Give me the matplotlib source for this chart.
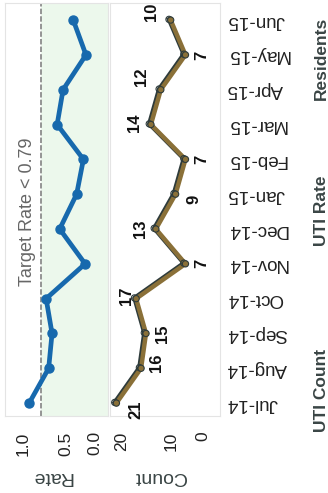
import matplotlib.pyplot as plt
import matplotlib.patheffects as pe
from matplotlib.transforms import ScaledTranslation

plt.rcParams['font.family'] = ['Liberation Sans', 'DejaVu Sans']

# data, Jul-14 .. Jun-15
months = ['Jul-14', 'Aug-14', 'Sep-14', 'Oct-14', 'Nov-14', 'Dec-14',
          'Jan-15', 'Feb-15', 'Mar-15', 'Apr-15', 'May-15', 'Jun-15']
uti_count = [21, 16, 15, 17, 7, 13, 9, 7, 14, 12, 7, 10]
uti_rate = [0.93, 0.70, 0.66, 0.73, 0.27, 0.57, 0.37, 0.29, 0.60, 0.53, 0.26, 0.41]
target = 0.79
rate_ticks = [1.0, 0.5, 0.0]
count_ticks = [20, 10, 0]

# where the count labels sit relative to their point (points)
label_off = [(14, -5), (11, 4), (12, 0), (-7, 2), (12, 0), (-11, 0),
             (13, -4), (12, 0), (-12, 1), (-14, 9), (12, 0), (-14, 6)]

blue = '#1769ad'
brown = '#8a7038'
dark = '#2e3b3b'
txt = '#3a4545'

idx = list(range(len(months)))

fig = plt.figure(figsize=(3.28, 4.93), dpi=100)
ax_r = fig.add_axes([5/328, 77/493, 103/328, 413/493])
ax_c = fig.add_axes([110/328, 77/493, 110/328, 413/493])

# rate panel
ax_r.axvspan(0, target, color='#ecf8ec', zorder=0, lw=0)
ax_r.axvline(target, color='#8c8c8c', ls=(0, (3, 1.2)), lw=1.3, zorder=1)
ax_r.plot(uti_rate, idx, color=blue, lw=3.4, marker='o', ms=6.5, zorder=3)
ax_r.annotate('Target Rate < %.2f' % target, (target, 5.5), xytext=(-10, 0),
              textcoords='offset points', rotation=90, ha='center', va='center',
              fontsize=13, color='#666666')
ax_r.set_xlim(1.215, 0)
ax_r.set_xticks(rate_ticks, ['%.1f' % t for t in rate_ticks])

# count panel
ax_c.plot(uti_count, idx, color=brown, lw=3.2, marker='o', ms=4.5,
          mfc=brown, mec=dark, mew=0.8, zorder=3,
          path_effects=[pe.SimpleLineShadow(offset=(-1.2, 0.5), shadow_color=dark, alpha=1),
                        pe.Normal()])
for i, v in enumerate(uti_count):
    ax_c.annotate(str(v), (v, i), xytext=label_off[i], textcoords='offset points',
                  rotation=90, ha='center', va='center', fontsize=12,
                  fontweight='bold', color='#111111')
ax_c.set_xlim(22.3, 0)
ax_c.set_xticks(count_ticks, [str(t) for t in count_ticks])
ax_c.set_yticks(idx, months)
ax_c.yaxis.tick_right()
ax_c.tick_params(axis='y', length=0, pad=5, labelsize=13.5, labelrotation=180,
                 labelcolor='#222222')
for lbl in ax_c.get_yticklabels():
    lbl.set_va('center')
    lbl.set_ha('left')

for ax in (ax_r, ax_c):
    ax.set_ylim(-0.37, 11.49)
    ax.tick_params(axis='x', length=0, pad=11, labelsize=12.5, labelrotation=90,
                   labelcolor='#222222')
    for s in ax.spines.values():
        s.set_color('#e4e4e4')
ax_r.set_yticks([])

# push the bottom-most value labels in a bit, like the original
for ax, dx in ((ax_r, -13), (ax_c, -17)):
    lbl = ax.get_xticklabels()[-1]
    lbl.set_transform(lbl.get_transform() + ScaledTranslation(dx/100, 0, fig.dpi_scale_trans))

fig.text(52/328, 1 - 477/493, 'Rate', rotation=180, ha='center', va='center',
         fontsize=14, color=txt)
fig.text(160/328, 1 - 477/493, 'Count', rotation=180, ha='center', va='center',
         fontsize=14, color=txt)

fig.text(321/328, 1 - 58/493, 'Residents', rotation=90, ha='center', va='center',
         fontsize=12.5, fontweight='bold', color=txt)
fig.text(321/328, 1 - 211/493, 'UTI Rate', rotation=90, ha='center', va='center',
         fontsize=12.5, fontweight='bold', color=txt)
fig.text(321/328, 1 - 390/493, 'UTI Count', rotation=90, ha='center', va='center',
         fontsize=12.5, fontweight='bold', color=txt)

fig.savefig('out.png', dpi=100)
